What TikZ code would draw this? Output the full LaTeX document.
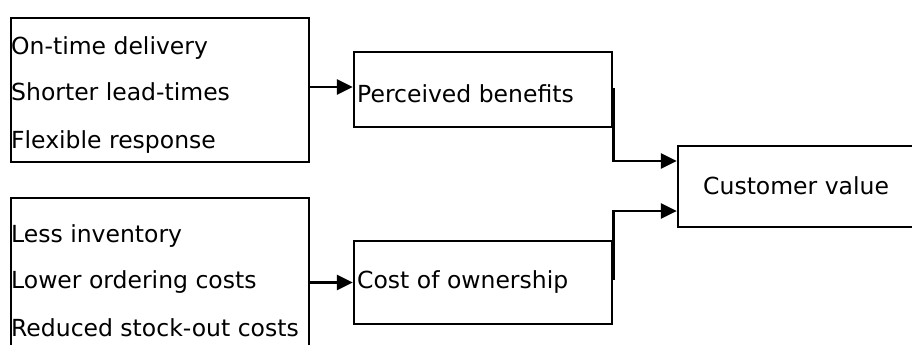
\documentclass[tikz,border=0pt]{standalone}
\usepackage{fontspec}
\setmainfont{DejaVu Sans}
\usetikzlibrary{arrows.meta}
\begin{document}
\begin{tikzpicture}[x=1pt,y=-1pt,
  box/.style={draw=black,line width=2.2pt,rectangle,inner sep=0pt},
  lbl/.style={anchor=base west,inner sep=0pt,font=\fontsize{23.5}{28}\selectfont},
  conn/.style={line width=2.8pt,-{Triangle[length=16pt,width=15pt]}}]
\useasboundingbox (0,0) rectangle (912,345);
\clip (0,0) rectangle (912,345);
% boxes
\node[box,minimum width=298pt,minimum height=144pt] (b1) at (160,90) {};
\node[box,minimum width=298pt,minimum height=160pt] (b2) at (160,278) {};
\node[box,minimum width=258pt,minimum height=75pt] (pb) at (483,89.5) {};
\node[box,minimum width=258pt,minimum height=83pt] (co) at (483,282.5) {};
\node[box,minimum width=240pt,minimum height=81pt] (cv) at (798,186.5) {};
% texts
\node[lbl] (t1) at (11,55) {On-time delivery};
\node[lbl] (t2) at (11,100) {Shorter lead-times};
\node[lbl] (t3) at (11,148) {Flexible response};
\node[lbl] (t4) at (11,242) {Less inventory};
\node[lbl] (t5) at (11,288) {Lower ordering costs};
\node[lbl] (t6) at (11,336) {Reduced stock-out costs};
\node[lbl] (tp) at (357,102) {Perceived benefits};
\node[lbl] (tc) at (357,288) {Cost of ownership};
\node[lbl] (tv) at (703,194) {Customer value};
% connectors
\coordinate (a1) at (b1.east |- 0,87);
\coordinate (a1e) at (pb.west |- a1);
\draw[conn] (a1) -- (a1e);
\coordinate (a2) at (b2.east |- co.west);
\draw[conn] (a2) -- (co.west);
\coordinate (p1) at (pb.east |- 0,88);
\coordinate (v1) at (cv.west |- 0,161);
\draw[conn] (p1) |- (v1);
\coordinate (c1) at (co.east |- 0,280);
\coordinate (v2) at (cv.west |- 0,211);
\draw[conn] (c1) |- (v2);
\end{tikzpicture}
\end{document}
